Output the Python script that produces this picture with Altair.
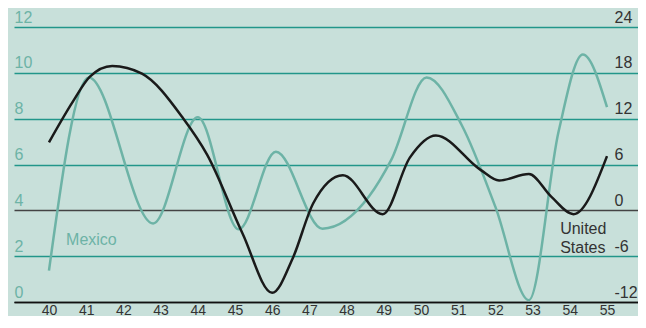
import altair as alt
import pandas as pd

# Mexico (left axis, 0..12) — points at extrema, x in fractional years
mex_year = [40.0, 41.07, 42.8, 44.0, 45.1, 46.1, 47.35, 48.6, 49.2, 50.15, 51.1, 52.0, 52.9, 53.7, 54.35, 55.0]
mex_val = [1.37, 9.8, 3.43, 8.06, 3.17, 6.56, 3.2, 4.6, 6.2, 9.8, 7.7, 4.15, 0.08, 7.45, 10.8, 8.5]

# United States (right axis, -12..24)
us_year = [40.0, 40.65, 41.1, 41.7, 42.5, 43.6, 44.25, 45.2, 46.0, 46.55, 47.1, 47.9, 48.97, 49.7, 50.4, 51.6, 52.1, 52.9, 53.5, 54.1, 55.0]
us_val = [8.9, 14.3, 17.5, 18.9, 17.9, 12.1, 7.3, -3.0, -10.8, -6.3, 0.9, 4.6, -0.5, 6.9, 9.8, 5.3, 3.9, 4.75, 1.8, -0.5, 7.1]

year_ticks = list(range(40, 56))
left_ticks = [0, 2, 4, 6, 8, 10, 12]
right_ticks = [-12, -6, 0, 6, 12, 18, 24]

BG = "#c8e0da"
TEAL_LINE = "#6db3a6"
GRID = "#22968a"
DARK = "#333333"
FONT = "Liberation Sans"

mex = pd.DataFrame({"year": mex_year, "value": mex_val})
us = pd.DataFrame({"year": us_year, "value": us_val})

xscale = alt.Scale(domain=[39.06, 55.833], nice=False, zero=False)
xaxis = alt.Axis(values=year_ticks, title=None, grid=False, ticks=False,
                 domain=True, domainColor="#111111", domainWidth=1.6,
                 labelPadding=1, labelFontSize=14, labelColor=DARK,
                 labelFont=FONT, labelFlush=False, format="d")

left_scale = alt.Scale(domain=[0, 12], nice=False, zero=False)
right_scale = alt.Scale(domain=[-12, 24], nice=False, zero=False)

left_axis = alt.Axis(
    values=left_ticks, title=None, orient="left", domain=False, ticks=False,
    grid=True,
    gridColor={"condition": [{"test": "datum.value === 4", "value": "#444444"},
                             {"test": "datum.value === 0", "value": "#111111"}],
               "value": GRID},
    gridWidth=1.4,
    labelAlign="left", labelBaseline="bottom", labelPadding=0, labelOffset=-2,
    labelFontSize=16, labelColor=TEAL_LINE, labelFont=FONT,
    labelExpr="'' + datum.value",
)
right_axis = alt.Axis(
    values=right_ticks, title=None, orient="right", domain=False, ticks=False,
    grid=False,
    labelAlign="left", labelBaseline="bottom", labelPadding=-24, labelOffset=-2,
    labelFontSize=16, labelColor=DARK, labelFont=FONT,
    labelExpr="'' + datum.value",
)

mex_line = alt.Chart(mex).mark_line(color=TEAL_LINE, strokeWidth=2.5, interpolate="monotone").encode(
    x=alt.X("year:Q", scale=xscale, axis=xaxis),
    y=alt.Y("value:Q", scale=left_scale, axis=left_axis),
)
mex_label = alt.Chart(pd.DataFrame({"year": [40.46], "value": [2.49], "t": ["Mexico"]})).mark_text(
    align="left", baseline="alphabetic", fontSize=16, color=TEAL_LINE, font=FONT
).encode(x=alt.X("year:Q", scale=xscale), y=alt.Y("value:Q", scale=left_scale), text="t:N")

left_layer = alt.layer(mex_line, mex_label)

us_line = alt.Chart(us).mark_line(color="#1a1a1a", strokeWidth=2.5, interpolate="monotone").encode(
    x=alt.X("year:Q", scale=xscale, axis=xaxis),
    y=alt.Y("value:Q", scale=right_scale, axis=right_axis),
)
us_label = alt.Chart(pd.DataFrame({"year": [53.74], "value": [-3.12], "t": [["United", "States"]]})).mark_text(
    align="left", baseline="alphabetic", fontSize=16, color=DARK, font=FONT, lineHeight=18.4
).encode(x=alt.X("year:Q", scale=xscale), y=alt.Y("value:Q", scale=right_scale), text="t")

right_layer = alt.layer(us_line, us_label)

chart = alt.layer(left_layer, right_layer).resolve_scale(y="independent").properties(
    width=624, height=275,
    autosize=alt.AutoSizeParams(type="none"),
    padding={"left": 6, "top": 19, "right": 0, "bottom": 14},
    background=BG,
).configure_view(stroke=None)

chart.save("out.html", embed_options={"renderer": "svg", "actions": False})
